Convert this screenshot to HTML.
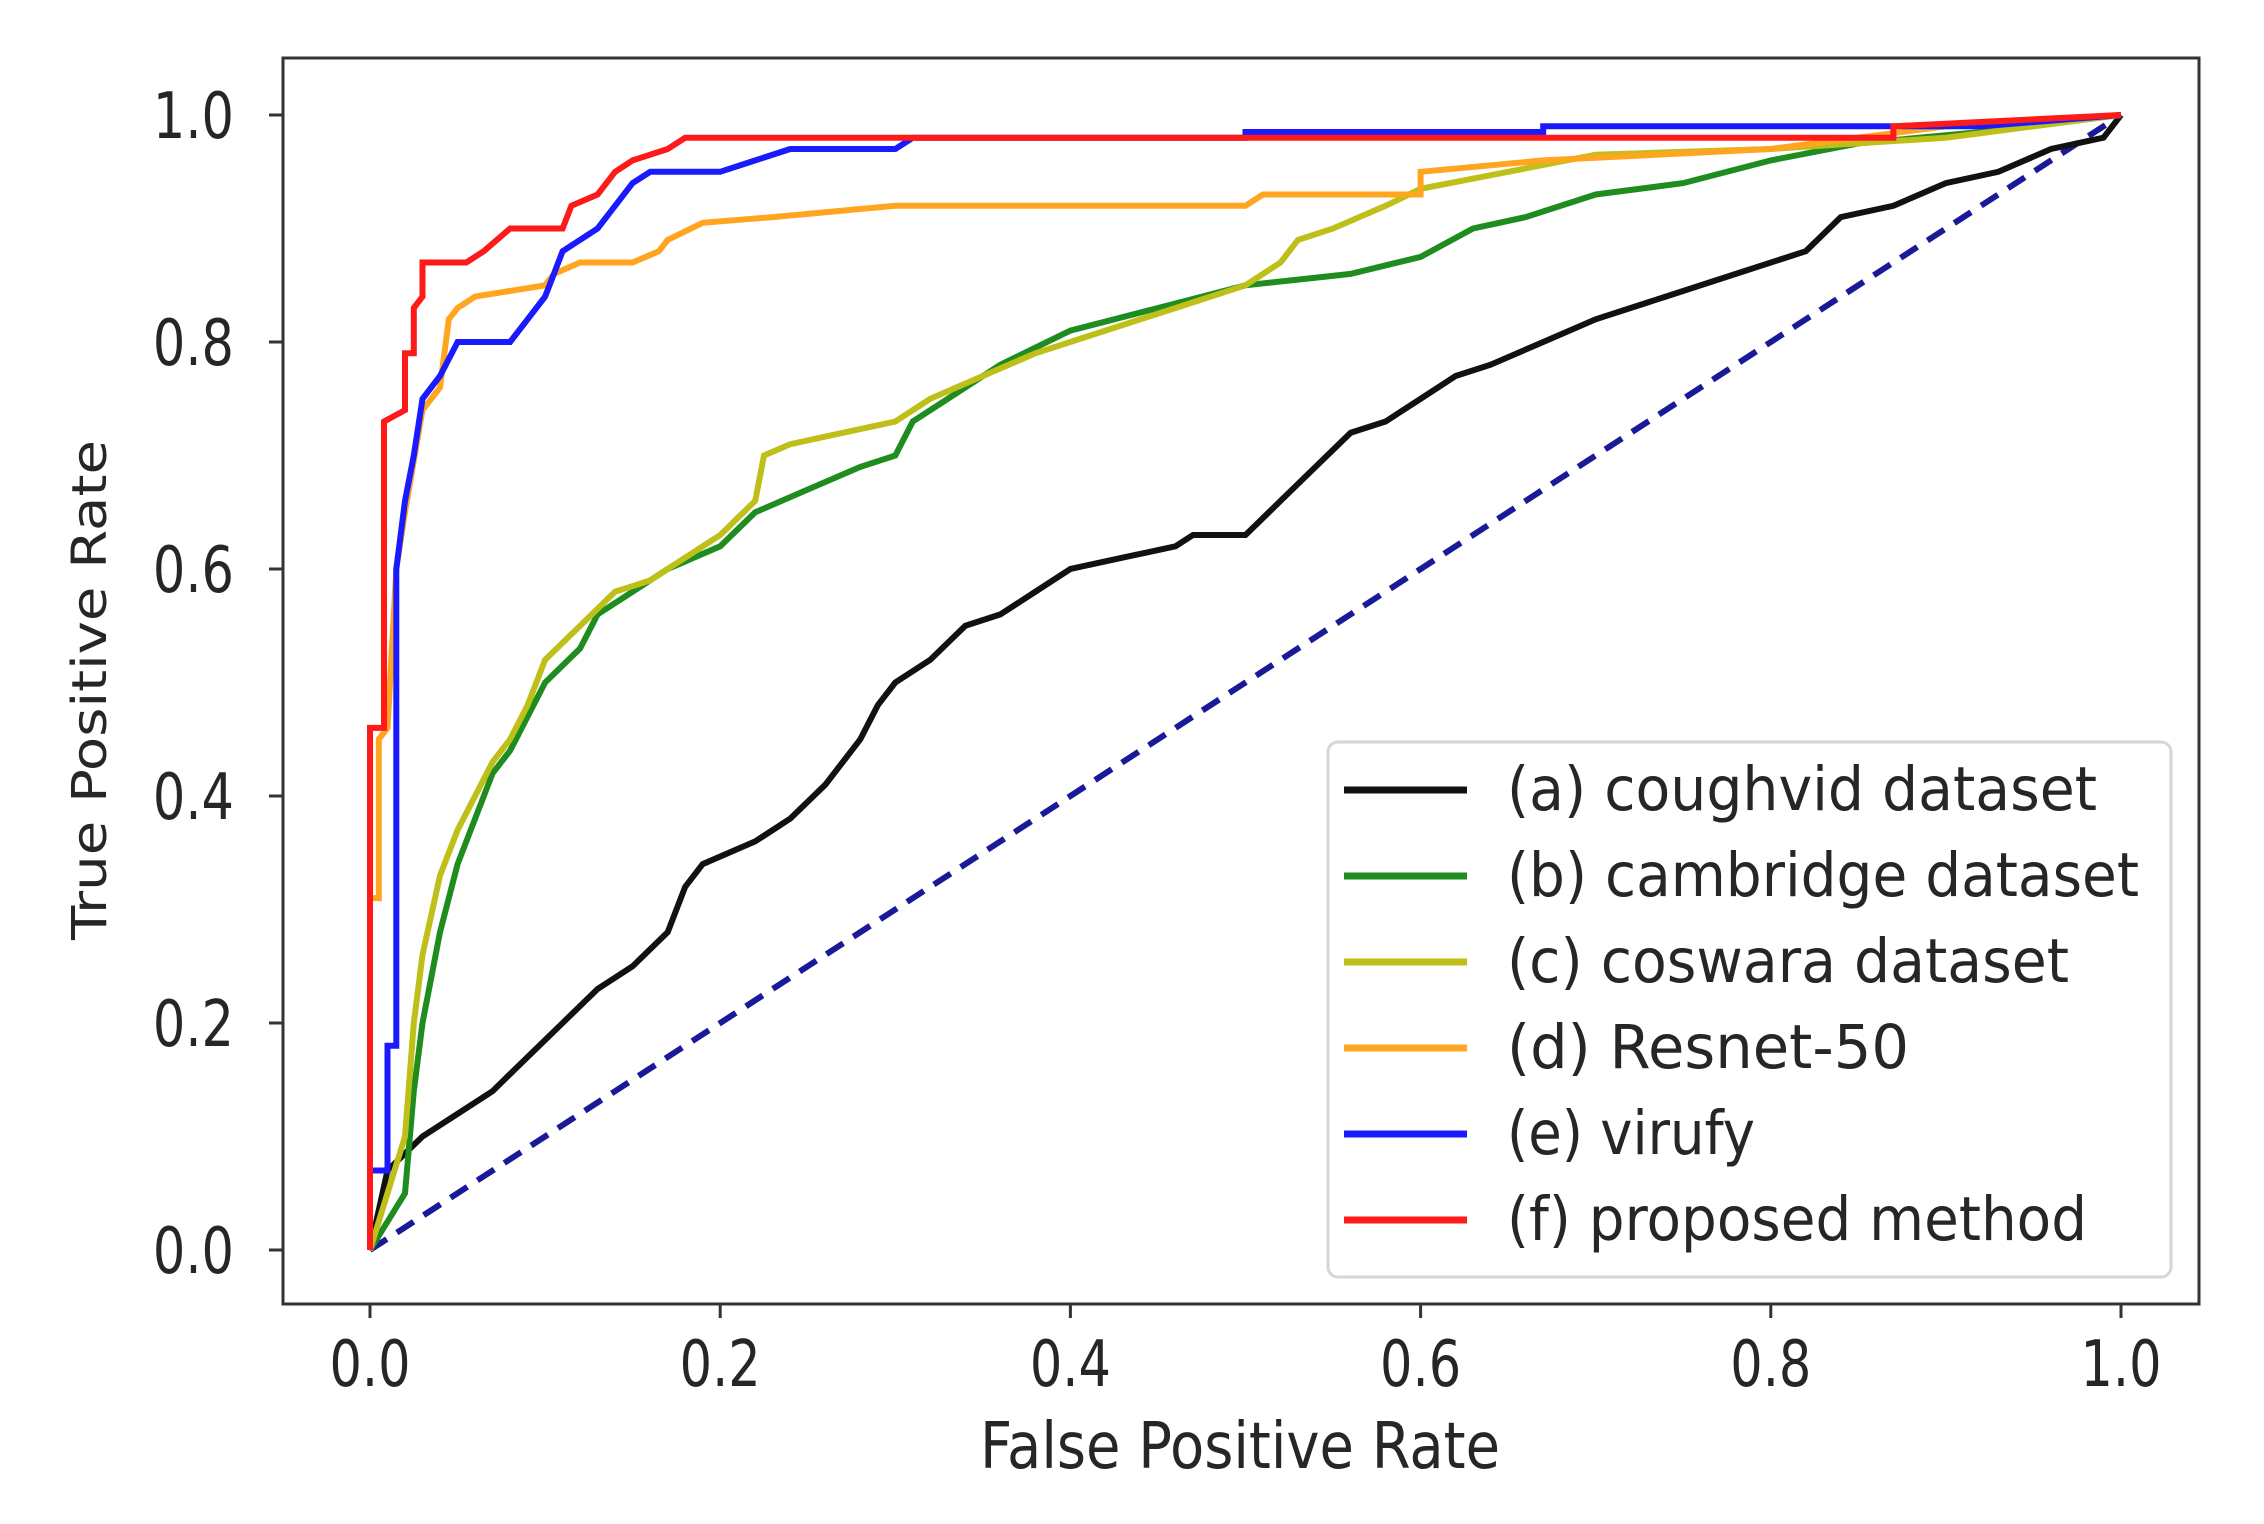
<!DOCTYPE html>
<html><head><meta charset="utf-8"><style>
html,body{margin:0;padding:0;background:#fff;}
svg{display:block;font-family:"DejaVu Sans","Liberation Sans",sans-serif;}
</style></head><body>
<svg id="chart" width="2264" height="1524" viewBox="0 0 2264 1524">
<rect x="0" y="0" width="2264" height="1524" fill="#fff"/>
<g id="plot"></g>
<g id="axes"></g>
<g id="legend"></g>
</svg>
<script>
const seriesNames = ["(a) coughvid dataset","(b) cambridge dataset","(c) coswara dataset","(d) Resnet-50","(e) virufy","(f) proposed method"];
const seriesColors = ["#111111","#1f8c1f","#bfbf1a","#ffa51f","#1a1aff","#ff1a1a"];
const xTicks = [0,0.2,0.4,0.6,0.8,1.0];
const yTicks = [0,0.2,0.4,0.6,0.8,1.0];
const tickLabels = ["0.0","0.2","0.4","0.6","0.8","1.0"];
const coughvidFpr = [0,0.01,0.03,0.05,0.07,0.09,0.11,0.13,0.15,0.17,0.18,0.19,0.22,0.24,0.26,0.28,0.29,0.3,0.32,0.34,0.36,0.38,0.4,0.43,0.46,0.47,0.5,0.52,0.54,0.56,0.58,0.6,0.62,0.64,0.67,0.7,0.74,0.78,0.82,0.84,0.87,0.9,0.93,0.96,0.99,1];
const coughvidTpr = [0,0.07,0.1,0.12,0.14,0.17,0.2,0.23,0.25,0.28,0.32,0.34,0.36,0.38,0.41,0.45,0.48,0.5,0.52,0.55,0.56,0.58,0.6,0.61,0.62,0.63,0.63,0.66,0.69,0.72,0.73,0.75,0.77,0.78,0.8,0.82,0.84,0.86,0.88,0.91,0.92,0.94,0.95,0.97,0.98,1];
const cambridgeFpr = [0,0.02,0.025,0.03,0.04,0.05,0.06,0.07,0.08,0.09,0.1,0.12,0.13,0.15,0.17,0.2,0.22,0.25,0.28,0.3,0.31,0.33,0.36,0.4,0.45,0.5,0.53,0.56,0.6,0.63,0.66,0.7,0.75,0.8,0.85,0.92,1];
const cambridgeTpr = [0,0.05,0.14,0.2,0.28,0.34,0.38,0.42,0.44,0.47,0.5,0.53,0.56,0.58,0.6,0.62,0.65,0.67,0.69,0.7,0.73,0.75,0.78,0.81,0.83,0.85,0.855,0.86,0.875,0.9,0.91,0.93,0.94,0.96,0.975,0.985,1];
const coswaraFpr = [0,0.01,0.02,0.025,0.03,0.04,0.05,0.06,0.07,0.08,0.09,0.1,0.12,0.14,0.16,0.18,0.2,0.22,0.225,0.24,0.27,0.3,0.32,0.35,0.38,0.42,0.46,0.5,0.52,0.53,0.55,0.58,0.6,0.65,0.7,0.8,0.9,1];
const coswaraTpr = [0,0.05,0.1,0.2,0.26,0.33,0.37,0.4,0.43,0.45,0.48,0.52,0.55,0.58,0.59,0.61,0.63,0.66,0.7,0.71,0.72,0.73,0.75,0.77,0.79,0.81,0.83,0.85,0.87,0.89,0.9,0.92,0.935,0.95,0.965,0.97,0.98,1];
const resnetFpr = [0,0,0.005,0.005,0.01,0.015,0.02,0.03,0.04,0.045,0.05,0.06,0.08,0.1,0.105,0.12,0.15,0.165,0.17,0.19,0.23,0.3,0.5,0.51,0.6,0.6,0.67,0.8,0.9,1];
const resnetTpr = [0,0.31,0.31,0.45,0.46,0.6,0.65,0.74,0.76,0.82,0.83,0.84,0.845,0.85,0.86,0.87,0.87,0.88,0.89,0.905,0.91,0.92,0.92,0.93,0.93,0.95,0.96,0.97,0.99,1];
const virufyFpr = [0,0,0.01,0.01,0.015,0.015,0.02,0.025,0.03,0.04,0.05,0.08,0.09,0.1,0.105,0.11,0.12,0.13,0.14,0.15,0.16,0.2,0.22,0.24,0.3,0.31,0.5,0.5,0.67,0.67,0.92,1];
const virufyTpr = [0,0.07,0.07,0.18,0.18,0.6,0.66,0.7,0.75,0.77,0.8,0.8,0.82,0.84,0.86,0.88,0.89,0.9,0.92,0.94,0.95,0.95,0.96,0.97,0.97,0.98,0.98,0.985,0.985,0.99,0.99,1];
const proposedFpr = [0,0,0.008,0.008,0.02,0.02,0.025,0.025,0.03,0.03,0.055,0.065,0.08,0.11,0.115,0.13,0.14,0.15,0.17,0.18,0.87,0.87,1];
const proposedTpr = [0,0.46,0.46,0.73,0.74,0.79,0.79,0.83,0.84,0.87,0.87,0.88,0.9,0.9,0.92,0.93,0.95,0.96,0.97,0.98,0.98,0.99,1];
const chanceFpr = [0,1];
const chanceTpr = [0,1];

const NS = "http://www.w3.org/2000/svg";
const X0 = 370, X1 = 2121, Y0 = 1250, Y1 = 115;
function sx(v){ return X0 + v*(X1-X0); }
function sy(v){ return Y0 - v*(Y0-Y1); }
function mk(tag, attrs, parent){ const e=document.createElementNS(NS,tag); for(const k in attrs) e.setAttribute(k,attrs[k]); parent.appendChild(e); return e; }
const plot=document.getElementById('plot'), axes=document.getElementById('axes'), legend=document.getElementById('legend');

function pathD(xs,ys){ return xs.map((x,i)=>(i?'L':'M')+sx(x).toFixed(1)+','+sy(ys[i]).toFixed(1)).join(' '); }
const allX=[coughvidFpr,cambridgeFpr,coswaraFpr,resnetFpr,virufyFpr,proposedFpr];
const allY=[coughvidTpr,cambridgeTpr,coswaraTpr,resnetTpr,virufyTpr,proposedTpr];
const slugs=["coughvid","cambridge","coswara","resnet50","virufy","proposed"];

const diag=mk('path',{d:pathD(chanceFpr,chanceTpr),fill:'none',stroke:'#1a1a99','stroke-width':6,'stroke-dasharray':'20 12'},plot);


for(let i=0;i<6;i++){
  const p=mk('path',{d:pathD(allX[i],allY[i]),fill:'none',stroke:seriesColors[i],'stroke-width':6,'stroke-linejoin':'miter'},plot);
  
  
}

const frame=mk('rect',{x:283,y:58,width:1916,height:1246,fill:'none',stroke:'#333','stroke-width':3},axes);


for(let i=0;i<xTicks.length;i++){
  const x=sx(xTicks[i]);
  const t=mk('line',{x1:x,y1:1304,x2:x,y2:1318,stroke:'#333','stroke-width':3},axes);
  
  
  const tx=mk('text',{x:0,y:0,'font-size':51,fill:'#262626','text-anchor':'middle',transform:`translate(${x},1386) scale(1,1.25)`},axes);
  tx.textContent=tickLabels[i];
  
  
}
for(let i=0;i<yTicks.length;i++){
  const y=sy(yTicks[i]);
  const t=mk('line',{x1:269,y1:y,x2:283,y2:y,stroke:'#333','stroke-width':3},axes);
  
  
  const tx=mk('text',{x:0,y:0,'font-size':51,fill:'#262626','text-anchor':'end',transform:`translate(234,${y+23}) scale(1,1.25)`},axes);
  tx.textContent=tickLabels[i];
  
  
}
const xl=mk('text',{x:0,y:0,'font-size':51,fill:'#262626','text-anchor':'middle',textLength:520,lengthAdjust:'spacingAndGlyphs',transform:'translate(1240,1468) scale(1,1.25)'},axes);
xl.textContent='False Positive Rate';


const yl=mk('text',{x:0,y:0,'font-size':51,fill:'#262626','text-anchor':'middle',textLength:500,lengthAdjust:'spacingAndGlyphs',transform:'translate(106,690) rotate(-90) scale(1,0.95)'},axes);
yl.textContent='True Positive Rate';



const lb=mk('rect',{x:1328,y:742,width:843,height:535,rx:10,fill:'#fff','fill-opacity':0.9,stroke:'#d6d6d6','stroke-width':3},legend);


const legendWidths=[590,632,562,402,248,580];
for(let i=0;i<6;i++){
  const y=790+i*86;
  const g=mk('g',{},legend);
  
  
  mk('line',{x1:1344,y1:y,x2:1467,y2:y,stroke:seriesColors[i],'stroke-width':7},g);
  const tx=mk('text',{x:0,y:0,'font-size':50,fill:'#262626',textLength:legendWidths[i],lengthAdjust:'spacingAndGlyphs',transform:`translate(1507,${y+20}) scale(1,1.22)`},g);
  tx.textContent=seriesNames[i];
}
</script>
</body></html>
